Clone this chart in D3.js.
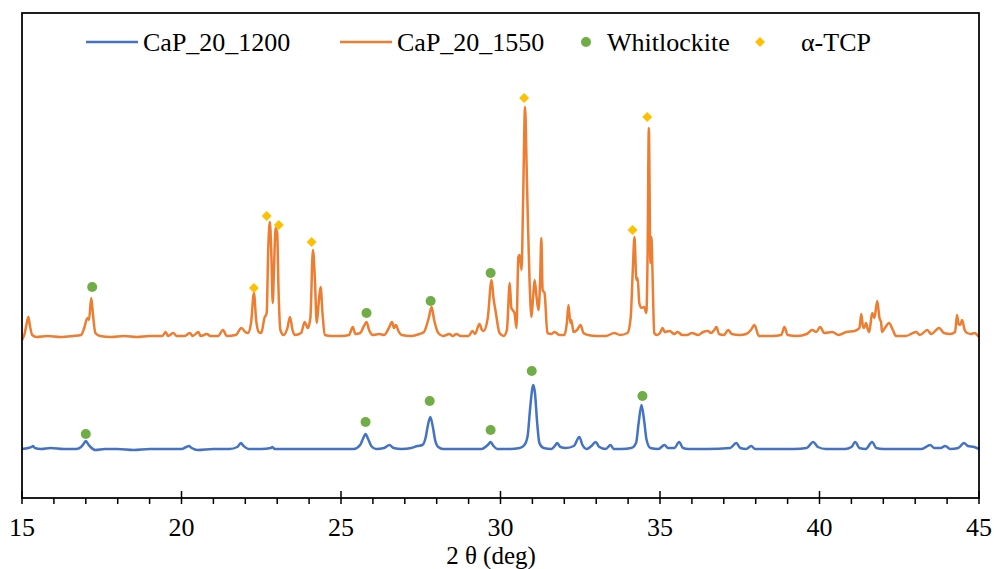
<!DOCTYPE html>
<html>
<head>
<meta charset="utf-8">
<script src="https://cdn.jsdelivr.net/npm/d3@7"></script>
<style>
  html, body { margin: 0; padding: 0; background: #fff; }
  svg { display: block; }
  svg text { font-family: 'Times New Roman', Times, 'Liberation Serif', Tinos, 'DejaVu Serif', 'Noto Serif', serif; fill: #000; }
</style>
</head>
<body>
<div id="chart"></div>
<script>
// ---------------------------------------------------------
//  XRD patterns of CaP_20 sintered at 1200 / 1550 °C
//  points are [2θ (deg), intensity (a.u.)]
// ---------------------------------------------------------
const cap1200 = [
  [15.0, 49], [15.2, 50], [15.3, 51], [15.35, 52], [15.4, 50], [15.6, 49], [15.9, 50], [16.3, 49],
  [16.7, 49], [16.85, 51], [16.95, 55], [17.0, 57], [17.05, 55], [17.15, 51], [17.3, 48], [17.6, 49],
  [18.0, 49], [18.5, 48], [19.0, 49], [19.5, 49], [20.0, 49], [20.15, 51], [20.23, 52], [20.32, 50],
  [20.5, 48], [21.0, 49], [21.5, 49], [21.75, 51], [21.86, 55], [21.95, 52], [22.1, 49], [22.5, 49],
  [22.8, 50], [22.85, 51], [22.92, 49], [23.5, 49], [24.0, 49], [24.5, 49], [25.0, 49], [25.4, 49],
  [25.6, 53], [25.7, 60], [25.77, 64], [25.85, 59], [25.95, 52], [26.1, 49], [26.35, 50], [26.52, 53],
  [26.65, 50], [26.9, 49], [27.2, 50], [27.4, 52], [27.55, 53], [27.65, 60], [27.72, 72], [27.8, 81],
  [27.88, 71], [27.95, 58], [28.05, 51], [28.2, 49], [28.6, 49], [29.0, 49], [29.4, 49], [29.6, 53],
  [29.69, 56], [29.78, 52], [29.9, 49], [30.3, 49], [30.6, 50], [30.75, 53], [30.85, 62], [30.93, 90],
  [31.0, 110], [31.03, 113], [31.08, 105], [31.15, 75], [31.22, 55], [31.35, 50], [31.6, 49], [31.7, 52],
  [31.78, 55], [31.88, 51], [32.05, 50], [32.3, 52], [32.47, 61], [32.57, 53], [32.7, 49], [32.85, 52],
  [32.98, 56], [33.1, 51], [33.3, 49], [33.45, 53], [33.55, 49], [33.8, 49], [34.1, 50], [34.25, 55],
  [34.33, 75], [34.42, 93], [34.5, 78], [34.58, 58], [34.7, 50], [34.95, 49], [35.14, 53], [35.25, 50],
  [35.45, 50], [35.6, 56], [35.72, 50], [35.9, 49], [36.5, 49], [37.2, 50], [37.39, 55], [37.52, 50],
  [37.7, 49], [37.86, 52], [37.98, 49], [38.5, 49], [39.2, 49], [39.6, 50], [39.8, 56], [39.95, 51],
  [40.2, 49], [40.8, 49], [41.0, 51], [41.12, 56], [41.25, 50], [41.45, 49], [41.65, 56], [41.78, 50],
  [42.0, 49], [42.6, 49], [43.2, 49], [43.47, 53], [43.6, 50], [43.8, 50], [43.94, 52], [44.1, 49],
  [44.35, 50], [44.53, 55], [44.65, 52], [44.85, 51], [45.0, 49]
];

const cap1550 = [
  [15.0, 158], [15.08, 164], [15.15, 175], [15.2, 181], [15.25, 172], [15.32, 163], [15.45, 161], [15.8, 162],
  [16.2, 161], [16.6, 162], [16.85, 163], [16.95, 170], [17.05, 180], [17.1, 178], [17.17, 200], [17.22, 185],
  [17.3, 165], [17.45, 162], [17.8, 161], [18.2, 162], [18.6, 161], [19.0, 162], [19.4, 162], [19.5, 166],
  [19.58, 162], [19.74, 165], [19.85, 162], [20.1, 162], [20.26, 165], [20.35, 162], [20.53, 166], [20.6, 162],
  [20.8, 164], [20.9, 162], [21.15, 162], [21.3, 168], [21.42, 162], [21.7, 163], [21.88, 170], [22.0, 166],
  [22.08, 165], [22.18, 175], [22.27, 205], [22.34, 178], [22.42, 166], [22.5, 165], [22.6, 180], [22.67, 185],
  [22.72, 250], [22.77, 276], [22.82, 240], [22.86, 195], [22.9, 230], [22.95, 270], [23.0, 265], [23.04, 210],
  [23.1, 168], [23.2, 163], [23.32, 170], [23.4, 181], [23.48, 168], [23.55, 163], [23.75, 165], [23.86, 176],
  [23.96, 170], [24.04, 180], [24.12, 248], [24.18, 220], [24.24, 175], [24.3, 195], [24.36, 211], [24.42, 185],
  [24.49, 163], [24.7, 162], [25.0, 162], [25.25, 163], [25.37, 171], [25.45, 164], [25.6, 165], [25.72, 172],
  [25.8, 176], [25.88, 168], [26.0, 163], [26.2, 164], [26.35, 163], [26.5, 170], [26.6, 176], [26.66, 170],
  [26.72, 173], [26.8, 167], [26.9, 163], [27.2, 162], [27.46, 164], [27.6, 166], [27.75, 180], [27.84, 191],
  [27.92, 178], [28.05, 165], [28.2, 162], [28.4, 164], [28.5, 162], [28.62, 164], [28.75, 162], [29.0, 162],
  [29.12, 167], [29.2, 164], [29.34, 174], [29.42, 168], [29.47, 167], [29.6, 180], [29.72, 218], [29.78, 200],
  [29.85, 186], [29.97, 165], [30.1, 162], [30.2, 168], [30.29, 215], [30.34, 190], [30.38, 188], [30.44, 185],
  [30.5, 170], [30.56, 241], [30.6, 243], [30.66, 228], [30.71, 300], [30.77, 391], [30.82, 330], [30.86, 275],
  [30.91, 218], [30.97, 181], [31.02, 200], [31.07, 218], [31.13, 201], [31.19, 188], [31.24, 215], [31.28, 260],
  [31.32, 208], [31.38, 205], [31.47, 165], [31.6, 164], [31.69, 166], [31.85, 163], [32.0, 163], [32.08, 175],
  [32.13, 193], [32.19, 175], [32.22, 178], [32.29, 166], [32.4, 168], [32.51, 173], [32.6, 165], [32.75, 163],
  [33.0, 162], [33.3, 162], [33.57, 165], [33.75, 163], [33.98, 165], [34.08, 180], [34.15, 230], [34.2, 261],
  [34.26, 218], [34.3, 220], [34.35, 195], [34.42, 190], [34.5, 191], [34.57, 185], [34.61, 240], [34.65, 370],
  [34.7, 235], [34.73, 261], [34.76, 231], [34.82, 165], [34.9, 163], [35.0, 165], [35.08, 170], [35.15, 166],
  [35.3, 167], [35.45, 164], [35.55, 166], [35.7, 163], [35.85, 163], [36.0, 165], [36.2, 163], [36.35, 166],
  [36.5, 167], [36.6, 165], [36.7, 168], [36.77, 171], [36.85, 164], [37.0, 163], [37.14, 168], [37.25, 164],
  [37.5, 163], [37.7, 164], [37.85, 168], [37.96, 173], [38.1, 162], [38.5, 162], [38.8, 163], [38.9, 171],
  [39.0, 163], [39.3, 162], [39.6, 164], [39.77, 168], [39.9, 166], [40.02, 171], [40.15, 165], [40.4, 166],
  [40.6, 163], [40.84, 166], [41.1, 167], [41.25, 170], [41.31, 184], [41.36, 172], [41.4, 170], [41.46, 175],
  [41.52, 168], [41.56, 166], [41.65, 185], [41.72, 180], [41.81, 197], [41.88, 180], [41.93, 176], [41.96, 166],
  [42.05, 170], [42.18, 175], [42.3, 168], [42.4, 162], [42.7, 162], [43.03, 166], [43.15, 163], [43.38, 168],
  [43.5, 164], [43.75, 170], [43.9, 165], [44.1, 164], [44.25, 166], [44.31, 183], [44.36, 174], [44.41, 173],
  [44.47, 178], [44.55, 168], [44.63, 165], [44.75, 164], [44.85, 165], [45.0, 161]
];

// phase markers, [2θ, marker height]
const whitlockite = [
  [17.0, 64], [25.77, 76], [27.78, 97], [29.69, 68], [30.98, 127], [34.45, 102],   // on 1200
  [17.2, 211], [25.8, 185], [27.81, 197], [29.69, 225]                             // on 1550
];
const alphaTCP = [
  [22.27, 210], [22.67, 282], [23.05, 273], [24.08, 256], [30.74, 400], [34.14, 268], [34.6, 381]
];

const xDomain = [15, 45];
const xMajorTicks = [15, 20, 25, 30, 35, 40, 45];
const xMinorTicks = d3.range(16, 45).filter(v => v % 5 !== 0);
const xTitle = '2 θ (deg)';

const legendItems = [
  { label: 'CaP_20_1200', kind: 'line', color: '#4472C4', x: 86 },
  { label: 'CaP_20_1550', kind: 'line', color: '#ED7D31', x: 340 },
  { label: 'Whitlockite', kind: 'dot', color: '#70AD47', x: 586 },
  { label: 'α-TCP', kind: 'diamond', color: '#FFC000', x: 760 }
];

const W = 994, H = 569;
const M = { left: 22, right: 15, top: 13, bottom: 71 };

const svg = d3.select('#chart').append('svg')
  .attr('width', W)
  .attr('height', H)
  .attr('viewBox', `0 0 ${W} ${H}`);

const x = d3.scaleLinear().domain(xDomain).range([M.left, W - M.right]);
const y = d3.scaleLinear().domain([0, H - M.top - M.bottom]).range([H - M.bottom, M.top]);

const line = d3.line()
  .x(d => x(d[0]))
  .y(d => y(d[1]))
  .curve(d3.curveMonotoneX);

// traces
[[cap1200, '#4472C4'], [cap1550, '#ED7D31']].forEach(([data, color]) => {
  svg.append('path')
    .datum(data)
    .attr('d', line)
    .attr('fill', 'none')
    .attr('stroke', color)
    .attr('stroke-width', 2.5)
    .attr('stroke-linejoin', 'round');
});

// phase markers
const diamond = d3.symbol().type(d3.symbolSquare).size(50);

svg.append('g')
  .selectAll('circle')
  .data(whitlockite)
  .join('circle')
  .attr('cx', d => x(d[0]))
  .attr('cy', d => y(d[1]))
  .attr('r', 5)
  .attr('fill', '#70AD47');

svg.append('g')
  .selectAll('path')
  .data(alphaTCP)
  .join('path')
  .attr('d', diamond)
  .attr('transform', d => `translate(${x(d[0])},${y(d[1])}) rotate(45)`)
  .attr('fill', '#FFC000');

// frame
svg.append('rect')
  .attr('x', M.left)
  .attr('y', M.top)
  .attr('width', W - M.left - M.right)
  .attr('height', H - M.top - M.bottom)
  .attr('fill', 'none')
  .attr('stroke', '#000')
  .attr('stroke-width', 1.75);

// x axis: major ticks cross, minor ticks outside
const y0 = H - M.bottom;
const axis = svg.append('g').attr('stroke', '#000');
axis.selectAll('line.major')
  .data(xMajorTicks)
  .join('line')
  .attr('class', 'major')
  .attr('x1', d => x(d)).attr('x2', d => x(d))
  .attr('y1', y0 - 7).attr('y2', y0 + 6)
  .attr('stroke-width', 1.5);
axis.selectAll('line.minor')
  .data(xMinorTicks)
  .join('line')
  .attr('class', 'minor')
  .attr('x1', d => x(d)).attr('x2', d => x(d))
  .attr('y1', y0).attr('y2', y0 + 6)
  .attr('stroke-width', 1.5);

svg.append('g')
  .selectAll('text')
  .data(xMajorTicks)
  .join('text')
  .attr('x', d => x(d))
  .attr('y', y0 + 38)
  .attr('text-anchor', 'middle')
  .attr('font-size', 26)
  .text(d => d);

svg.append('text')
  .attr('x', 491)
  .attr('y', 564)
  .attr('text-anchor', 'middle')
  .attr('font-size', 25)
  .text(xTitle);

// legend
const legend = svg.append('g');
const ly = 42;
legendItems.forEach(it => {
  const g = legend.append('g');
  let tx;
  if (it.kind === 'line') {
    g.append('line')
      .attr('x1', it.x).attr('x2', it.x + 52)
      .attr('y1', ly).attr('y2', ly)
      .attr('stroke', it.color)
      .attr('stroke-width', 2.5);
    tx = it.x + 57;
  } else if (it.kind === 'dot') {
    g.append('circle')
      .attr('cx', it.x).attr('cy', ly)
      .attr('r', 5)
      .attr('fill', it.color);
    tx = it.x + 21;
  } else {
    g.append('path')
      .attr('d', diamond)
      .attr('transform', `translate(${it.x},${ly}) rotate(45)`)
      .attr('fill', it.color);
    tx = it.x + 41;
  }
  g.append('text')
    .attr('x', tx)
    .attr('y', ly + 9)
    .attr('font-size', 26)
    .text(it.label);
});
</script>
</body>
</html>
